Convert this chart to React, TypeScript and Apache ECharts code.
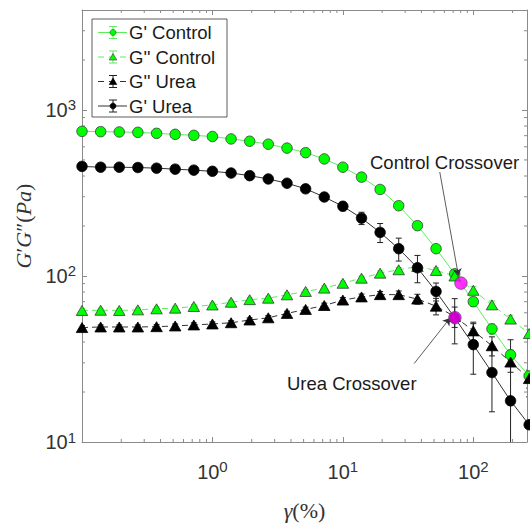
import React, { useEffect, useRef } from 'react';
import * as echarts from 'echarts';

// ---- data ----
const strain = [0.1, 0.139, 0.193, 0.268, 0.373, 0.518, 0.72, 1, 1.39, 1.93, 2.68, 3.73, 5.18, 7.2, 10, 13.9, 19.3, 26.8, 37.3, 51.8, 72, 100, 139, 193, 268];
const gpControl = [743, 740, 737, 733, 723, 713, 703, 692, 669, 648, 622, 589, 553, 507, 452, 394, 332, 265, 201, 146, 103, 70, 48, 33.5, 25];
const gpControlErr = [20, 20, 20, 20, 20, 20, 20, 22, 22, 22, 22, 22, 22, 20, 18, 16, 14, 12, 10, 8, 6, 4.5, 3.5, 2.5, 2];
const gppControl = [62.0, 62.2, 62.0, 62.5, 63.4, 64.0, 65.5, 66.9, 69.5, 72, 73.5, 77, 80.7, 84.5, 90.4, 97, 104, 109, 114, 108, 100, 82, 67, 55, 45];
const gppControlErr = [1.7, 1.7, 1.7, 1.7, 1.7, 1.8, 1.8, 1.9, 2, 2, 2.1, 2.2, 2.3, 2.5, 2.7, 3, 3.2, 3.5, 3.7, 4, 4.5, 4.5, 3.7, 3, 2.5];
const gppUrea = [48.9, 49.3, 49.3, 49.3, 49.5, 50.0, 50.7, 51.4, 52.3, 54.3, 56.0, 59.5, 62.9, 66.4, 71.6, 74.8, 77.2, 77.2, 72.6, 65.8, 57, 46.7, 38.0, 30.3, 24.1];
const gppUreaErr = [1.4, 1.4, 1.4, 1.4, 1.4, 1.4, 1.5, 1.5, 1.5, 1.6, 1.7, 1.8, 2, 2.2, 2.5, 3, 3.5, 4, 5, 7.5, 8, 6, 5, 4, 3];
const gpUrea = [457, 452, 452, 450, 446, 440, 434, 427, 417, 402, 384, 362, 335, 299, 263, 223, 183, 146, 112, 80.7, 56, 38.6, 26.2, 17.7, 12.7];
const gpUreaErr = [14, 14, 14, 14, 14, 14, 14, 14, 14, 14, 14, 14, 14, 14, 16, 19, 24, 23, 21, 10, 17, 13, 11, 23.6, 6];
const crossoverX = [80.4, 72.3];
const crossoverY = [90.6, 56.1];
const xMinorTicks = [0.2, 0.3, 0.4, 0.5, 0.6, 0.7, 0.8, 0.9, 2, 3, 4, 5, 6, 7, 8, 9, 20, 30, 40, 50, 60, 70, 80, 90, 200];
const yMinorTicks = [20, 30, 40, 50, 60, 70, 80, 90, 200, 300, 400, 500, 600, 700, 800, 900, 2000, 3000];
const legendNames = ["G' Control", "G'' Control", "G'' Urea", "G' Urea"];
// annotation arrows in data coordinates: [tailX, tailY, headX, headY]
const controlArrow = [55.3, 423, 76.9, 100.5];
const ureaArrow = [35.2, 29.7, 66.4, 55.8];

const AXIS = '#8a8a8a';
const LABEL = '#333333';
const SANS = 'Liberation Sans, Arial, sans-serif';
const SERIF = 'Liberation Serif, Times New Roman, serif';
const GREEN = '#00ff00';
const GREEN_LINE = '#5ced5c';
const BLACK = '#000000';
const BLACK_LINE = '#333333';

const supFmt = (v: number) => {
  if (v < 0.5) return '';
  const e = Math.log10(v);
  const r = Math.round(e);
  if (Math.abs(e - r) > 1e-6) return '';
  return `{b|10}{s|${r}}`;
};
const tickRich = {
  b: { fontSize: 20, fontFamily: SANS, color: LABEL, verticalAlign: 'middle' },
  s: { fontSize: 15, fontFamily: SANS, color: LABEL, verticalAlign: 'middle', padding: [0, 0, 10, 0] },
};

function errSeries(vals: number[], errs: number[], color: string) {
  return {
    type: 'custom',
    coordinateSystem: 'cartesian2d',
    clip: true,
    silent: true,
    data: strain.map((x, i) => [x, Math.max(vals[i] - errs[i], 0.5), vals[i] + errs[i]]),
    renderItem: (params: any, api: any) => {
      const x = api.value(0);
      const lo = api.coord([x, api.value(1)]);
      const hi = api.coord([x, api.value(2)]);
      const cap = 3;
      const st = { stroke: color, lineWidth: 1, fill: null };
      return {
        type: 'group',
        children: [
          { type: 'line', shape: { x1: lo[0], y1: lo[1], x2: hi[0], y2: hi[1] }, style: st },
          { type: 'line', shape: { x1: lo[0] - cap, y1: lo[1], x2: lo[0] + cap, y2: lo[1] }, style: st },
          { type: 'line', shape: { x1: hi[0] - cap, y1: hi[1], x2: hi[0] + cap, y2: hi[1] }, style: st },
        ],
      };
    },
    z: 2,
  };
}

function lineSeries(name: string, vals: number[], symbol: string, size: any, fill: string, border: string, lineColor: string, dashed: boolean) {
  return {
    name,
    type: 'line',
    data: strain.map((x, i) => [x, vals[i]]),
    symbol,
    symbolSize: size,
    showAllSymbol: true,
    clip: false,
    itemStyle: { color: fill, borderColor: border, borderWidth: 0.8 },
    lineStyle: { color: lineColor, width: 1, type: dashed ? [6, 4] : 'solid' },
    emphasis: { disabled: true },
    z: 2,
  };
}

function legendGraphic() {
  const children: any[] = [];
  const bx = 92, by = 19, bw = 135, bh = 98;
  children.push({ type: 'rect', shape: { x: bx, y: by, width: bw, height: bh }, style: { fill: '#fff', stroke: '#333', lineWidth: 0.8 } });
  const specs = [
    { color: GREEN_LINE, fill: GREEN, edge: '#3a3a3a', dashed: false, tri: false },
    { color: GREEN_LINE, fill: GREEN, edge: '#3a3a3a', dashed: true, tri: true },
    { color: BLACK_LINE, fill: BLACK, edge: BLACK, dashed: true, tri: true },
    { color: BLACK_LINE, fill: BLACK, edge: BLACK, dashed: false, tri: false },
  ];
  specs.forEach((s, i) => {
    const cy = 32.5 + i * 24.5;
    const mx = 113;
    children.push({ type: 'line', shape: { x1: 98, y1: cy, x2: 127, y2: cy }, style: { stroke: s.color, lineWidth: 1, lineDash: s.dashed ? [6, 5] : null } });
    const st = { stroke: s.color === GREEN_LINE ? GREEN_LINE : '#222', lineWidth: 1 };
    children.push({ type: 'line', shape: { x1: mx, y1: cy - 6, x2: mx, y2: cy + 6 }, style: st });
    children.push({ type: 'line', shape: { x1: mx - 4, y1: cy - 6, x2: mx + 4, y2: cy - 6 }, style: st });
    children.push({ type: 'line', shape: { x1: mx - 4, y1: cy + 6, x2: mx + 4, y2: cy + 6 }, style: st });
    if (s.tri) {
      children.push({ type: 'polygon', shape: { points: [[mx, cy - 3.5], [mx + 3.8, cy + 3], [mx - 3.8, cy + 3]] }, style: { fill: s.fill, stroke: s.edge, lineWidth: 0.6 } });
    } else {
      children.push({ type: 'circle', shape: { cx: mx, cy, r: 3 }, style: { fill: s.fill, stroke: s.edge, lineWidth: 0.6 } });
    }
    children.push({ type: 'text', x: 129, y: cy, style: { text: legendNames[i], font: `18.5px ${SANS}`, fill: '#1a1a1a', verticalAlign: 'middle', align: 'left' } });
  });
  return { type: 'group', z: 100, children };
}

export default function App() {
  const ref = useRef<HTMLDivElement>(null);
  useEffect(() => {
    if (!ref.current) return;
    const chart = echarts.init(ref.current, undefined, { renderer: 'svg' });
    const axisCommon = {
      type: 'log',
      logBase: 10,
      axisLine: { show: true, onZero: false, lineStyle: { color: AXIS, width: 1 } },
      axisTick: { show: true, inside: true, length: 5, lineStyle: { color: AXIS, width: 1 } },
      splitLine: { show: false },
      minorTick: { show: false },
    };
    const option: any = {
      animation: false,
      backgroundColor: '#ffffff',
      grid: { left: 82, top: 10, width: 451, height: 438, containLabel: false },
      xAxis: [
        {
          ...axisCommon,
          position: 'bottom',
          min: 0.1,
          max: 258,
          axisLabel: { formatter: supFmt, rich: tickRich, margin: 17 },
          name: '{i|γ}(%)',
          nameLocation: 'middle',
          nameGap: 57,
          nameTextStyle: { fontFamily: SERIF, fontSize: 22, color: LABEL, rich: { i: { fontFamily: SERIF, fontStyle: 'italic', fontSize: 22, color: LABEL } } },
        },
        { ...axisCommon, position: 'top', min: 0.1, max: 258, axisLabel: { show: false } },
      ],
      yAxis: [
        {
          ...axisCommon,
          position: 'left',
          min: 10,
          max: 4000,
          axisLabel: { formatter: supFmt, rich: tickRich, margin: 6 },
          name: '{i|G}′{i|G}″({i|Pa})',
          nameLocation: 'middle',
          nameRotate: 90,
          nameGap: 45,
          nameTextStyle: { fontFamily: SERIF, fontSize: 22, color: LABEL, rich: { i: { fontFamily: SERIF, fontStyle: 'italic', fontSize: 22, color: LABEL } } },
        },
        { ...axisCommon, position: 'right', min: 10, max: 4000, axisLabel: { show: false } },
      ],
      series: [
        {
          type: 'custom',
          coordinateSystem: 'cartesian2d',
          silent: true,
          data: xMinorTicks.map((v) => [v, 100]),
          renderItem: (params: any, api: any) => {
            const cs = params.coordSys;
            const px = api.coord([api.value(0), 100])[0];
            const b = cs.y + cs.height, t = cs.y;
            const st = { stroke: AXIS, lineWidth: 1 };
            return {
              type: 'group',
              children: [
                { type: 'line', shape: { x1: px, y1: b, x2: px, y2: b - 3 }, style: st },
                { type: 'line', shape: { x1: px, y1: t, x2: px, y2: t + 3 }, style: st },
              ],
            };
          },
          z: 1,
        },
        {
          type: 'custom',
          coordinateSystem: 'cartesian2d',
          silent: true,
          data: yMinorTicks.map((v) => [1, v]),
          renderItem: (params: any, api: any) => {
            const cs = params.coordSys;
            const py = api.coord([1, api.value(1)])[1];
            const l = cs.x, r = cs.x + cs.width;
            const st = { stroke: AXIS, lineWidth: 1 };
            return {
              type: 'group',
              children: [
                { type: 'line', shape: { x1: l, y1: py, x2: l + 3, y2: py }, style: st },
                { type: 'line', shape: { x1: r, y1: py, x2: r - 3, y2: py }, style: st },
              ],
            };
          },
          z: 1,
        },
        errSeries(gpControl, gpControlErr, GREEN_LINE),
        lineSeries("G' Control", gpControl, 'circle', 10.5, GREEN, '#3a3a3a', GREEN_LINE, false),
        errSeries(gppControl, gppControlErr, GREEN_LINE),
        lineSeries("G'' Control", gppControl, 'triangle', [11.5, 10], GREEN, '#3a3a3a', GREEN_LINE, true),
        errSeries(gppUrea, gppUreaErr, '#222'),
        lineSeries("G'' Urea", gppUrea, 'triangle', [11.5, 10], BLACK, BLACK, BLACK_LINE, true),
        errSeries(gpUrea, gpUreaErr, '#222'),
        lineSeries("G' Urea", gpUrea, 'circle', 10.5, BLACK, BLACK, BLACK_LINE, false),
        {
          name: 'Crossover',
          type: 'scatter',
          data: crossoverX.map((x, i) => [x, crossoverY[i]]),
          symbol: 'circle',
          symbolSize: 12.5,
          itemStyle: { color: '#ff00ff', borderColor: '#444', borderWidth: 0.8 },
          emphasis: { disabled: true },
          z: 5,
          markLine: {
            silent: true,
            symbol: ['none', 'arrow'],
            symbolSize: 7,
            label: { show: false },
            lineStyle: { color: '#333', width: 0.8, type: 'solid' },
            emphasis: { disabled: true },
            data: [
              [{ coord: [controlArrow[0], controlArrow[1]] }, { coord: [controlArrow[2], controlArrow[3]] }],
              [{ coord: [ureaArrow[0], ureaArrow[1]] }, { coord: [ureaArrow[2], ureaArrow[3]] }],
            ],
          },
        },
      ],
      graphic: [
        legendGraphic(),
        { type: 'text', x: 370, y: 162, z: 100, style: { text: 'Control Crossover', font: `18.5px ${SANS}`, fill: '#1a1a1a', verticalAlign: 'middle' } },
        { type: 'text', x: 287, y: 383, z: 100, style: { text: 'Urea Crossover', font: `18.5px ${SANS}`, fill: '#1a1a1a', verticalAlign: 'middle' } },
      ],
    };
    chart.setOption(option);
    return () => chart.dispose();
  }, []);
  return <div ref={ref} style={{ position: 'absolute', left: 0, top: 0, width: 530, height: 526, background: '#fff' }} />;
}
